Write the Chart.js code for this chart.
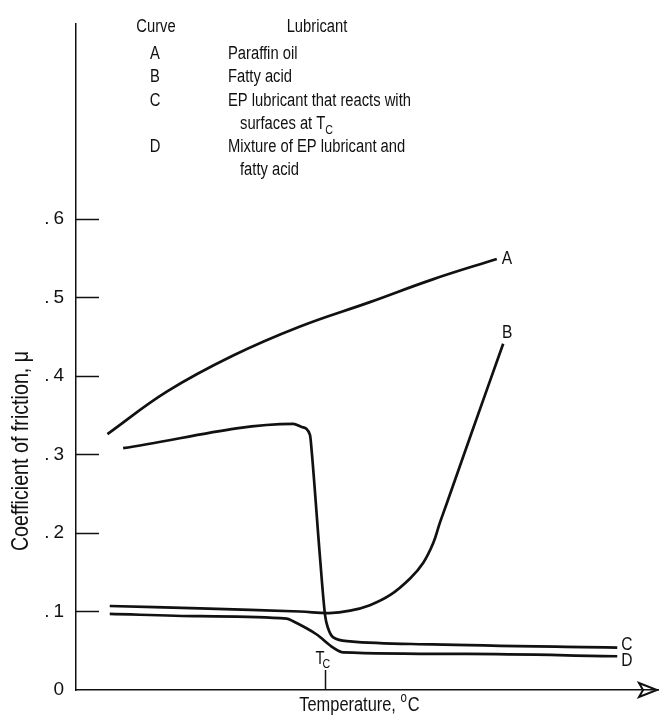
<!DOCTYPE html>
<html lang="en">
<head>
<meta charset="UTF-8">
<title>Coefficient of friction vs temperature</title>
<script src="https://cdn.jsdelivr.net/npm/chart.js"></script>
<style>
    html, body { margin: 0; padding: 0; background: #fff; }
    canvas { display: block; }
</style>
</head>
<body>
<canvas id="friction" width="659" height="719"></canvas>
<script>
    // values (temperature in arbitrary units, 0-100 along the axis)
    const TEMP_A = [5.4, 15.6, 27.0, 38.5, 50.5, 61.3, 72.3];
    const MU_A = [0.326, 0.380, 0.426, 0.463, 0.494, 0.523, 0.549];

    const TEMP_B = [5.8, 21.3, 38.5, 43.5, 47.1, 50.5, 54.0, 57.4, 59.7, 61.4, 62.5, 63.7, 67.9, 73.4];
    const MU_B = [0.107, 0.104, 0.100, 0.098, 0.101, 0.108, 0.121, 0.142, 0.1625, 0.1875, 0.2125, 0.2375, 0.326, 0.441];

    const TEMP_C = [8.1, 37.3, 38.8, 40.2, 40.5, 41.9, 42.8, 43.3, 44.2, 47.1, 61.3, 93.0];
    const MU_C = [0.308, 0.339, 0.335, 0.325, 0.304, 0.171, 0.095, 0.079, 0.067, 0.062, 0.058, 0.054];

    const TEMP_D = [5.8, 21.3, 36.2, 37.3, 41.3, 44.2, 45.9, 67.1, 93.0];
    const MU_D = [0.097, 0.094, 0.091, 0.0875, 0.071, 0.054, 0.048, 0.046, 0.043];

    const CURVES = ['A', 'B', 'C', 'D'];
    const LUBRICANTS = [
        ['Paraffin oil'],
        ['Fatty acid'],
        ['EP lubricant that reacts with', 'surfaces at T|C'],
        ['Mixture of EP lubricant and', 'fatty acid']
    ];
    const T_CRIT = 42.8;
    const Y_TICKS = [0, 0.1, 0.2, 0.3, 0.4, 0.5, 0.6];

    const INK = '#111';

    // narrow face if there is one, otherwise squeeze Liberation Sans
    const probe = document.createElement('canvas').getContext('2d');
    function hasFont(name) {
        const s = 'Coefficient mmmwwwiiilll';
        probe.font = '40px monospace';
        const a = probe.measureText(s).width;
        probe.font = '40px "' + name + '", monospace';
        return probe.measureText(s).width !== a;
    }
    let FACE = '"Liberation Sans", Arial, sans-serif', SQUEEZE = 0.82;
    if (hasFont('Liberation Sans Narrow')) {
        FACE = '"Liberation Sans Narrow", sans-serif';
        SQUEEZE = 1;
    }

    function textW(ctx, s, size) {
        ctx.font = size + 'px ' + FACE;
        return ctx.measureText(s).width * SQUEEZE;
    }
    function text(ctx, s, x, y, size, align) {
        ctx.save();
        ctx.font = size + 'px ' + FACE;
        ctx.textAlign = align || 'left';
        ctx.textBaseline = 'alphabetic';
        ctx.fillStyle = INK;
        ctx.translate(x, y);
        ctx.scale(SQUEEZE, 1);
        ctx.fillText(s, 0, 0);
        ctx.restore();
    }
    // "T|C" -> T with subscript C
    function richText(ctx, s, x, y, size) {
        const parts = s.split('|');
        text(ctx, parts[0], x, y, size);
        if (parts.length > 1) {
            text(ctx, parts[1], x + textW(ctx, parts[0], size), y + 5, Math.round(size * 0.72));
        }
    }

    const pts = (xs, ys) => xs.map((x, i) => ({ x: x, y: ys[i] }));

    const decorations = {
        id: 'decorations',
        afterDraw(chart) {
            const ctx = chart.ctx;
            const xs = chart.scales.x, ys = chart.scales.y;
            const area = chart.chartArea;
            ctx.save();
            ctx.strokeStyle = INK;
            ctx.lineWidth = 1.5;

            // inward tick marks on y
            Y_TICKS.forEach(v => {
                if (v === 0) return;
                const py = Math.round(ys.getPixelForValue(v)) + 0.5;
                ctx.beginPath();
                ctx.moveTo(area.left, py);
                ctx.lineTo(area.left + 23, py);
                ctx.stroke();
            });

            // T_C tick
            const tx = Math.round(xs.getPixelForValue(T_CRIT)) + 0.5;
            ctx.beginPath();
            ctx.moveTo(tx, area.bottom - 20);
            ctx.lineTo(tx, area.bottom);
            ctx.stroke();
            text(ctx, 'T', tx - 10, area.bottom - 26, 18);
            text(ctx, 'C', tx - 3, area.bottom - 22, 13);

            // arrow head at the end of the x axis
            const ay = area.bottom;
            ctx.lineWidth = 2;
            ctx.beginPath();
            ctx.moveTo(area.right - 19, ay - 7);
            ctx.lineTo(area.right - 1, ay);
            ctx.lineTo(area.right - 19, ay + 7);
            ctx.lineTo(area.right - 15, ay);
            ctx.closePath();
            ctx.stroke();

            // curve letters at the ends of the lines
            const off = [[5, 5, 'left'], [4, -6, 'center'], [4, 2, 'left'], [4, 10, 'left']];
            CURVES.forEach((c, i) => {
                const meta = chart.getDatasetMeta(i).data;
                const p = meta[meta.length - 1];
                text(ctx, c, p.x + off[i][0], p.y + off[i][1], 19, off[i][2]);
            });

            // key block
            text(ctx, 'Curve', 156, 32, 18, 'center');
            text(ctx, 'Lubricant', 317, 32, 18, 'center');
            let row = 59;
            CURVES.forEach((c, i) => {
                text(ctx, c, 155, row, 18, 'center');
                LUBRICANTS[i].forEach((line, j) => {
                    richText(ctx, line, j === 0 ? 228 : 240, row, 18);
                    row += 23;
                });
                if (i === 1) row += 1;
            });

            // axis titles
            const tt = 'Temperature, ';
            const w1 = textW(ctx, tt, 20), w2 = textW(ctx, 'o', 14), w3 = textW(ctx, 'C', 20);
            let sx = 359 - (w1 + w2 + w3) / 2;
            text(ctx, tt, sx, 711, 20);
            text(ctx, 'o', sx + w1, 702, 14);
            text(ctx, 'C', sx + w1 + w2 + 1, 711, 20);

            ctx.save();
            ctx.translate(21, 451);
            ctx.rotate(-Math.PI / 2);
            ctx.font = '24px ' + FACE;
            ctx.textAlign = 'center';
            ctx.textBaseline = 'middle';
            ctx.fillStyle = INK;
            ctx.scale(SQUEEZE, 1);
            ctx.fillText('Coefficient of friction, \u03bc', 0, 0);
            ctx.restore();

            ctx.restore();
        }
    };

    // smooth curves use plain bezier tension, the ones with sharp bends stay monotone
    const line = (xs, ys, smooth) => ({
        data: pts(xs, ys),
        borderColor: INK,
        borderWidth: 2.7,
        pointRadius: 0,
        fill: false,
        tension: smooth ? 0.4 : 0,
        cubicInterpolationMode: smooth ? 'default' : 'monotone'
    });

    new Chart(document.getElementById('friction'), {
        type: 'line',
        data: {
            datasets: [
                line(TEMP_A, MU_A, true),
                line(TEMP_B, MU_B, true),
                line(TEMP_C, MU_C, false),
                line(TEMP_D, MU_D, false)
            ]
        },
        options: {
            responsive: false,
            animation: false,
            layout: { padding: { top: 11, right: 1, bottom: 29, left: 0 } },
            plugins: { legend: { display: false }, tooltip: { enabled: false } },
            scales: {
                x: {
                    type: 'linear',
                    min: 0,
                    max: 100,
                    grid: { display: false },
                    ticks: { display: false },
                    border: { display: true, color: INK, width: 1.5 },
                    afterFit: s => { s.height = 0; }
                },
                y: {
                    type: 'linear',
                    min: 0,
                    max: 0.849,
                    grid: { display: false, drawTicks: false },
                    border: { display: true, color: INK, width: 1.5 },
                    afterBuildTicks: s => { s.ticks = Y_TICKS.map(v => ({ value: v })); },
                    ticks: {
                        color: INK,
                        padding: 12,
                        font: { family: FACE, size: 19 },
                        callback: v => v === 0 ? '0' : '.\u2009' + Math.round(v * 10)
                    },
                    afterFit: s => { s.width = 76; }
                }
            }
        },
        plugins: [decorations]
    });
</script>
</body>
</html>
